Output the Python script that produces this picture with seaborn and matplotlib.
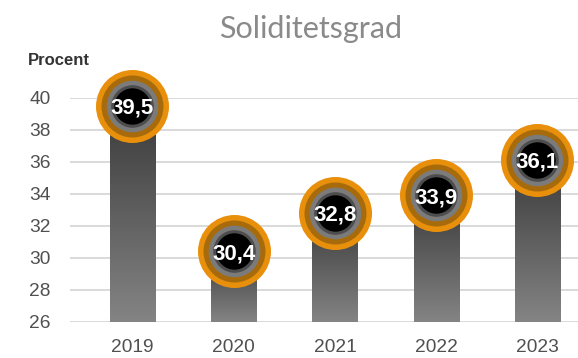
import numpy as np
import matplotlib
matplotlib.use("Agg")
import matplotlib.pyplot as plt
import seaborn as sns

# Equity ratio per year (percent)
years = ["2019", "2020", "2021", "2022", "2023"]
values = [39.5, 30.4, 32.8, 33.9, 36.1]
y_ticks = [26, 28, 30, 32, 34, 36, 38, 40]

title = "Soliditetsgrad"
y_unit = "Procent"

sns.set_theme(style="white")
plt.rcParams["font.family"] = ["Liberation Sans", "DejaVu Sans"]

W, H, DPI = 578, 358, 100
fig = plt.figure(figsize=(W / DPI, H / DPI), dpi=DPI)

left_px, right_px = 70, 578
top_px, bottom_px = 97.5, 321.7
ax = fig.add_axes([left_px / W, 1 - bottom_px / H,
                   (right_px - left_px) / W, (bottom_px - top_px) / H])

sns.barplot(x=years, y=values, width=0.445, color="#666666", ax=ax,
            zorder=2, linewidth=0)

ax.set_ylim(26, 40)
ax.set_xlim(-0.617, 4.40)
ax.set_yticks(y_ticks)
ax.yaxis.grid(True, color="#d9d9d9", linewidth=1.4, zorder=0)
ax.set_axisbelow(True)
for s in ax.spines.values():
    s.set_visible(False)
ax.tick_params(axis="both", length=0, labelsize=13.8, labelcolor="#505050")
ax.tick_params(axis="y", pad=14)
ax.tick_params(axis="x", pad=12.5)
ax.set_xlabel("")
ax.set_ylabel("")

# vertical gradient fill on each bar (dark at the top, lighter at the base)
grad = np.linspace(0, 1, 256).reshape(-1, 1)
cmap = matplotlib.colors.LinearSegmentedColormap.from_list(
    "bar", ["#3a3a3a", "#848484"])
ybot = ax.get_ylim()[0]
for p in ax.patches:
    x0 = p.get_x()
    w = p.get_width()
    top = p.get_y() + p.get_height()
    p.set_facecolor("none")
    im = ax.imshow(grad, cmap=cmap, aspect="auto",
                   extent=[x0, x0 + w, ybot, top], origin="upper",
                   zorder=2, interpolation="bicubic")
    im.set_clip_path(p)
ax.set_xlim(-0.617, 4.40)
ax.set_ylim(26, 40)

# concentric ring badges on top of each bar
px_to_pt = 72 / DPI
rings = [(36.5, "#e8900c"), (31, "#a86b0c"), (25.8, "#7b7b7b"),
         (21.3, "#4d4d4d"), (18.2, "#000000")]
for i, (r, c) in enumerate(rings):
    size = (2 * r * px_to_pt) ** 2
    sns.scatterplot(x=list(range(len(years))), y=values, s=size, color=c,
                    linewidth=0, ax=ax, legend=False, clip_on=False,
                    zorder=5 + i)

for i, v in enumerate(values):
    ax.text(i, v, f"{v:.1f}".replace(".", ","), ha="center",
            va="center_baseline", color="white", fontsize=16,
            fontweight="bold", zorder=20)

fig.text(311 / W, 1 - 38 / H, title, ha="center", va="baseline",
         fontsize=22, color="#8a8a8a", family=["Lato", "DejaVu Sans"],
         fontweight="normal")
fig.text(28 / W, 1 - 65 / H, y_unit, ha="left", va="baseline",
         fontsize=12, color="#333333", fontweight="bold")

fig.savefig("out.png", dpi=DPI)
